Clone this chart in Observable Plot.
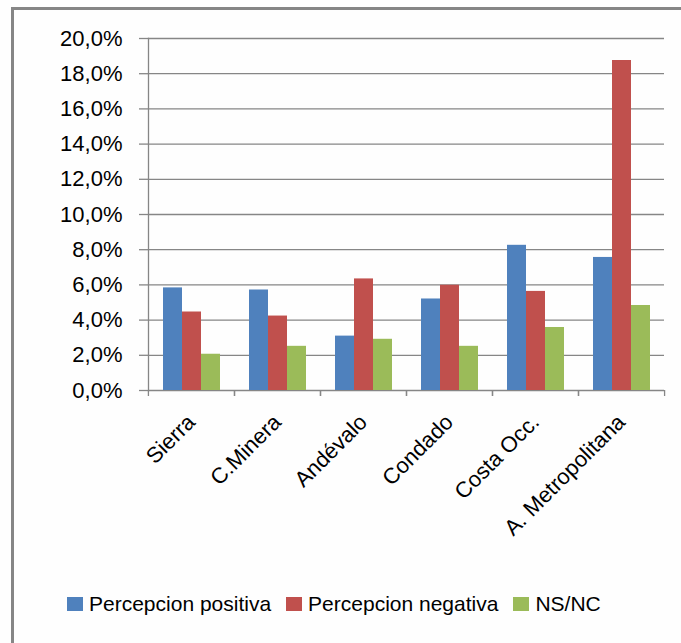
<!DOCTYPE html>
<html>
<head>
<meta charset="utf-8">
<script src="https://cdn.jsdelivr.net/npm/d3@7"></script>
<script src="https://cdn.jsdelivr.net/npm/@observablehq/plot@0.6"></script>
<style>
  html, body { margin: 0; padding: 0; background: #fefefe; }
  body { width: 681px; height: 643px; position: relative; overflow: hidden; font-family: "Liberation Sans", Arial, sans-serif; }
  #border { position: absolute; left: 11px; top: 7px; width: 720px; height: 700px; border: 3px solid #868686; box-sizing: border-box; }
  #chart { position: absolute; left: 0; top: 0; }
  #legend { position: absolute; left: 67px; top: 592px; display: flex; align-items: center; font-size: 21px; color: #000; }
  .item { display: flex; align-items: center; margin-right: 15px; }
  .sw { width: 16px; height: 14px; margin-right: 6px; }
</style>
</head>
<body>
<div id="border"></div>
<div id="chart"></div>
<div id="legend"></div>
<script>
const categories = ["Sierra", "C.Minera", "Andévalo", "Condado", "Costa Occ.", "A. Metropolitana"];
const series = ["Percepcion positiva", "Percepcion negativa", "NS/NC"];
const positiva = [5.83, 5.71, 3.09, 5.20, 8.25, 7.56];
const negativa = [4.46, 4.23, 6.34, 5.98, 5.63, 18.75];
const nsnc = [2.06, 2.51, 2.91, 2.51, 3.58, 4.83];
const yTicks = [0, 2, 4, 6, 8, 10, 12, 14, 16, 18, 20];
const colors = ["#4F81BD", "#C0504D", "#9BBB59"];

const values = [positiva, negativa, nsnc];
const rows = categories.flatMap((cat, i) => series.map((s, j) => ({cat, series: s, value: values[j][i]})));

const W = 681, H = 560, ML = 147, MR = 17;
const step = (W - ML - MR) / categories.length;
const grey = "#868686";

const chart = Plot.plot({
  width: W, height: H,
  marginLeft: ML, marginRight: MR, marginTop: 38, marginBottom: 170,
  style: {fontFamily: "Liberation Sans, Arial, sans-serif", fontSize: "21px", color: "#000", background: "transparent", overflow: "visible"},
  fx: {domain: categories, padding: 0, label: null, axis: null},
  x: {domain: series, paddingInner: 0, paddingOuter: 0.69, axis: null},
  y: {domain: [0, 20], axis: null},
  color: {domain: series, range: colors},
  marks: [
    Plot.gridY(yTicks, {stroke: grey, strokeOpacity: 1, strokeWidth: 1.3}),
    Plot.barY(rows, {fx: "cat", x: "series", y: "value", fill: "series"}),
    Plot.axisY(yTicks, {tickSize: 9, tickPadding: 17, stroke: grey, strokeOpacity: 1, strokeWidth: 1.3, fill: "#000",
      tickFormat: d => d.toFixed(1).replace(".", ",") + "%", label: null, fontSize: 22}),
    Plot.frame({anchor: "left", facetAnchor: "left", stroke: grey, strokeOpacity: 1, strokeWidth: 1.3}),
    Plot.axisFx({anchor: "bottom", tickSize: 0, tickRotate: -45, tickPadding: 28, label: null, fontSize: 22, fill: "#000"}),
    Plot.axisFx({anchor: "bottom", tickSize: 6, tickFormat: () => "", dx: -step / 2, label: null, stroke: grey, strokeOpacity: 1, strokeWidth: 1.3}),
    Plot.axisFx(categories.slice(-1), {anchor: "bottom", tickSize: 6, tickFormat: () => "", dx: step / 2, label: null, stroke: grey, strokeOpacity: 1, strokeWidth: 1.3})
  ]
});
document.getElementById("chart").appendChild(chart);

const legend = document.getElementById("legend");
series.forEach((s, j) => {
  const item = document.createElement("div");
  item.className = "item";
  const sw = document.createElement("div");
  sw.className = "sw";
  sw.style.background = colors[j];
  const t = document.createElement("span");
  t.textContent = s;
  item.appendChild(sw);
  item.appendChild(t);
  legend.appendChild(item);
});
</script>
</body>
</html>
